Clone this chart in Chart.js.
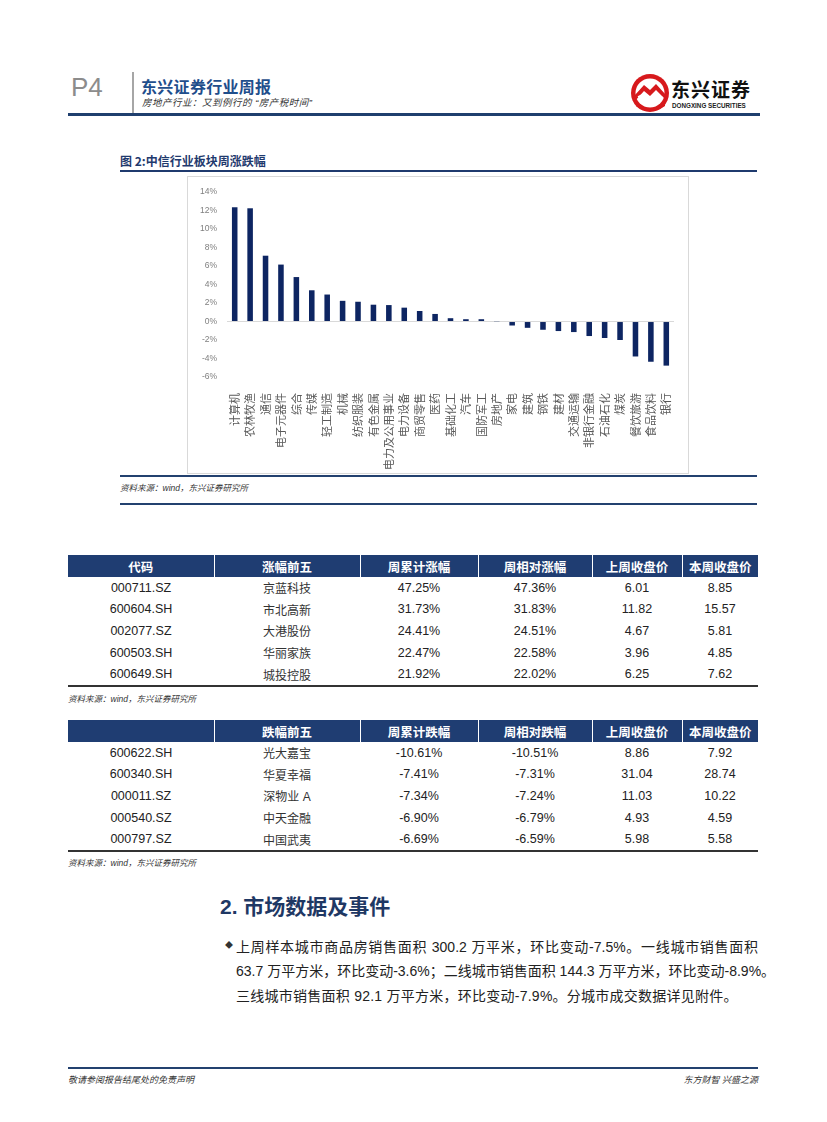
<!DOCTYPE html>
<html>
<head>
<meta charset="utf-8">
<script src="https://cdn.jsdelivr.net/npm/chart.js"></script>
<style>
body{margin:0;background:#fff;font-family:"Liberation Sans","Noto Sans CJK SC",sans-serif;color:#222;}
#page{position:relative;width:827px;height:1122px;overflow:hidden;}
.abs{position:absolute;white-space:nowrap;}
.lh1{line-height:1;}
.song{font-family:"Liberation Sans","Noto Sans CJK SC",sans-serif;font-style:italic;}
.hline{position:absolute;background:#23416f;}
table.t{position:absolute;left:68px;width:690px;border-collapse:collapse;font-size:12.5px;table-layout:fixed;}
table.t th{background:#1f3d72;color:#fff;font-weight:bold;height:22px;padding:0;border-left:1px solid #fff;font-size:12.5px;}
table.t th:first-child{border-left:none;}
table.t td{height:21.6px;padding:0;text-align:center;}
table.t tr:last-child td{border-bottom:2px solid #333;}
table.t td.cn{font-size:12px;color:#333;}
.src{font-size:8.5px;color:#333;font-style:italic;}
</style>
</head>
<body>
<div id="page">

<!-- header -->
<div class="abs" style="left:71px;top:72px;font-size:26px;color:#8c8c8c;">P4</div>
<div class="abs" style="left:132px;top:72px;width:2px;height:41px;background:#a6a6a6;"></div>
<div class="abs lh1" style="left:141px;top:78px;font-size:16px;font-weight:bold;color:#1f4e8c;font-family:'Noto Sans CJK SC';letter-spacing:0.3px;">东兴证券行业周报</div>
<div class="abs song lh1" style="left:142px;top:98px;font-size:9.5px;color:#333;letter-spacing:0.5px;">房地产行业：又到例行的 “房产税时间”</div>
<svg class="abs" style="left:630px;top:73px;" width="42" height="42" viewBox="0 0 42 42">
  <circle cx="20" cy="20" r="19" fill="#d7191c"/>
  <circle cx="20" cy="20" r="14.5" fill="#fff"/>
  <path d="M5 22 L14 12 L20 17 L26 11 L36 22 L36 27 L26 17 L20 23 L14 18 L5 28 Z" fill="#d7191c"/>
  <path d="M8 24 L14 21 L20 26 L26 21 L33 25" stroke="#fff" stroke-width="1.5" fill="none"/>
  <path d="M6 30 Q20 40 35 30 L35 33 Q20 43 6 33 Z" fill="#d7191c"/>
</svg>
<div class="abs lh1" style="left:671px;top:79px;font-size:19px;font-weight:bold;color:#111;font-family:'Noto Sans CJK SC';letter-spacing:1px;">东兴证券</div>
<div class="abs lh1" style="left:672px;top:103px;font-size:6.3px;font-weight:bold;color:#222;">DONGXING SECURITIES</div>
<div class="hline" style="left:68px;top:113px;width:692px;height:3px;background:#1f3f6e;"></div>

<!-- figure title -->
<div class="abs" style="left:120px;top:152px;font-size:12px;font-weight:bold;color:#1f3a6e;font-family:'Noto Sans CJK SC';">图 2:中信行业板块周涨跌幅</div>
<div class="hline" style="left:120px;top:170px;width:637px;height:2px;background:#1f3a6e;"></div>

<!-- chart box -->
<div class="abs" style="left:187px;top:176px;width:500px;height:296px;border:1px solid #d9d9d9;"></div>
<div class="abs" style="left:188px;top:177px;width:500px;height:296px;">
  <canvas id="myChart"></canvas>
</div>

<div class="hline" style="left:120px;top:475px;width:637px;height:2px;"></div>
<div class="abs src" style="left:120px;top:481px;">资料来源：wind，东兴证券研究所</div>
<div class="hline" style="left:120px;top:503px;width:637px;height:2px;"></div>

<!-- table up -->
<table class="t" style="top:555px;">
<colgroup><col style="width:146px"><col style="width:146px"><col style="width:118px"><col style="width:114px"><col style="width:90px"><col style="width:76px"></colgroup>
<tr><th>代码</th><th>涨幅前五</th><th>周累计涨幅</th><th>周相对涨幅</th><th>上周收盘价</th><th>本周收盘价</th></tr>
<tr><td>000711.SZ</td><td class="cn">京蓝科技</td><td>47.25%</td><td>47.36%</td><td>6.01</td><td>8.85</td></tr>
<tr><td>600604.SH</td><td class="cn">市北高新</td><td>31.73%</td><td>31.83%</td><td>11.82</td><td>15.57</td></tr>
<tr><td>002077.SZ</td><td class="cn">大港股份</td><td>24.41%</td><td>24.51%</td><td>4.67</td><td>5.81</td></tr>
<tr><td>600503.SH</td><td class="cn">华丽家族</td><td>22.47%</td><td>22.58%</td><td>3.96</td><td>4.85</td></tr>
<tr><td>600649.SH</td><td class="cn">城投控股</td><td>21.92%</td><td>22.02%</td><td>6.25</td><td>7.62</td></tr>
</table>
<div class="abs src" style="left:68px;top:692px;">资料来源：wind，东兴证券研究所</div>

<!-- table down -->
<table class="t" style="top:720px;">
<colgroup><col style="width:146px"><col style="width:146px"><col style="width:118px"><col style="width:114px"><col style="width:90px"><col style="width:76px"></colgroup>
<tr><th></th><th>跌幅前五</th><th>周累计跌幅</th><th>周相对跌幅</th><th>上周收盘价</th><th>本周收盘价</th></tr>
<tr><td>600622.SH</td><td class="cn">光大嘉宝</td><td>-10.61%</td><td>-10.51%</td><td>8.86</td><td>7.92</td></tr>
<tr><td>600340.SH</td><td class="cn">华夏幸福</td><td>-7.41%</td><td>-7.31%</td><td>31.04</td><td>28.74</td></tr>
<tr><td>000011.SZ</td><td class="cn">深物业 A</td><td>-7.34%</td><td>-7.24%</td><td>11.03</td><td>10.22</td></tr>
<tr><td>000540.SZ</td><td class="cn">中天金融</td><td>-6.90%</td><td>-6.79%</td><td>4.93</td><td>4.59</td></tr>
<tr><td>000797.SZ</td><td class="cn">中国武夷</td><td>-6.69%</td><td>-6.59%</td><td>5.98</td><td>5.58</td></tr>
</table>
<div class="abs src" style="left:68px;top:856px;">资料来源：wind，东兴证券研究所</div>

<!-- section 2 -->
<div class="abs" style="left:220px;top:890px;font-size:21px;font-weight:bold;color:#1f3864;font-family:'Liberation Sans','Noto Sans CJK SC';">2. 市场数据及事件</div>
<div class="abs" style="left:225px;top:939px;font-size:8px;color:#333;">◆</div>
<div class="abs" style="left:236px;top:936px;width:522px;font-size:14px;color:#222;text-align:justify;text-align-last:justify;">上周样本城市商品房销售面积 300.2 万平米，环比变动-7.5%。一线城市销售面积</div>
<div class="abs" style="left:236px;top:960px;width:522px;font-size:14px;color:#222;text-align:justify;text-align-last:justify;">63.7 万平方米，环比变动-3.6%；二线城市销售面积 144.3 万平方米，环比变动-8.9%。</div>
<div class="abs" style="left:236px;top:985px;font-size:14px;color:#222;letter-spacing:0.25px;">三线城市销售面积 92.1 万平方米，环比变动-7.9%。分城市成交数据详见附件。</div>

<!-- footer -->
<div class="hline" style="left:68px;top:1067px;width:690px;height:2px;"></div>
<div class="abs song" style="left:68px;top:1073px;font-size:9px;color:#333;">敬请参阅报告结尾处的免责声明</div>
<div class="abs song" style="right:69px;top:1073px;font-size:9px;color:#333;">东方财智 兴盛之源</div>

</div>

<script>
//---------------data-----------------------------
var industries = ["计算机", "农林牧渔", "通信", "电子元器件", "综合", "传媒", "轻工制造", "机械",
    "纺织服装", "有色金属", "电力及公用事业", "电力设备", "商贸零售", "医药", "基础化工", "汽车",
    "国防军工", "房地产", "家电", "建筑", "钢铁", "建材", "交通运输", "非银行金融", "石油石化",
    "煤炭", "餐饮旅游", "食品饮料", "银行"];
var weekChange = [12.36, 12.25, 7.12, 6.16, 4.81, 3.38, 2.92, 2.24,
    2.14, 1.82, 1.78, 1.50, 1.14, 0.82, 0.36, 0.25,
    0.25, 0.03, -0.43, -0.68, -0.89, -1.03, -1.14, -1.57, -1.78,
    -2.00, -3.78, -4.35, -4.77];
var yTicks = [-6, -4, -2, 0, 2, 4, 6, 8, 10, 12, 14];
//--------------------------------------------------

var ctx = document.getElementById("myChart").getContext('2d');
var myBarChart = new Chart(ctx, {
type: 'bar',
data: {
labels: industries,
datasets: [{
data: weekChange,
backgroundColor: "#0d2562",
barPercentage: 0.36,
categoryPercentage: 1
}]
},
options: {
responsive: true,
maintainAspectRatio: false,
animation: false,
layout: { padding: { top: 11, right: 14, left: 0, bottom: 0 } },
plugins: { legend: { display: false }, tooltip: { enabled: false } },
scales: {
x: {
grid: { display: false },
border: { display: false },
ticks: {
autoSkip: false, maxRotation: 90, minRotation: 90, padding: 8,
color: "#595959", font: { family: "Noto Sans CJK SC", size: 11 }
},
afterFit: function (s) { s.height = 96; }
},
y: {
min: yTicks[0],
max: yTicks[yTicks.length - 1],
afterBuildTicks: function (s) { s.ticks = yTicks.map(function (v) { return { value: v }; }); },
grid: {
drawTicks: false,
color: function (c) { return c.tick && c.tick.value === 0 ? "#d9d9d9" : "rgba(0,0,0,0)"; }
},
border: { display: false },
ticks: {
padding: 10, color: "#7f7f7f", font: { family: "Liberation Sans", size: 8.5 },
callback: function (v) { return v + "%"; }
},
afterFit: function (s) { s.width = 39; }
}
}
}
});
</script>
</body>
</html>
